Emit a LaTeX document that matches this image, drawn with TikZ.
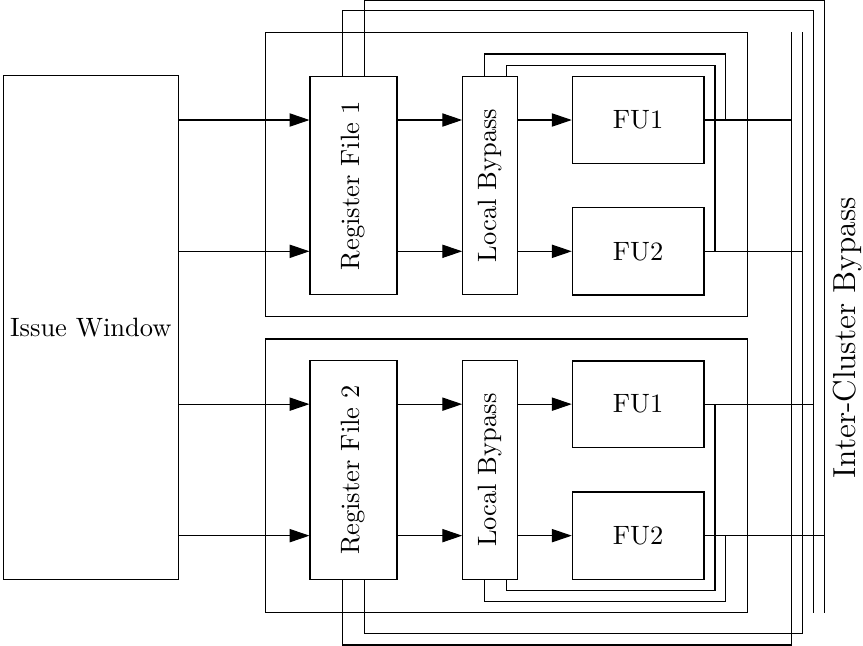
\documentclass[tikz,border=0pt]{standalone}
\usepackage{graphicx}
\usetikzlibrary{arrows.meta}
\begin{document}
\begin{tikzpicture}[x=0.3774pt,y=-0.3774pt,
  blk/.style 2 args={draw, inner sep=0pt, minimum width={#1*0.3774pt}, minimum height={#2*0.3774pt}},
  arr/.style={-{Triangle[length=7.5pt,width=5pt]}},
  wire/.style={line width=0.4pt}]
\useasboundingbox (0,0) rectangle (863,646);
% main blocks
\node[blk={175}{503.6}] (iw) at (90.8,327.5) {Issue Window};
\node[blk={481.6}{284.4}] (c1) at (506.5,174.5) {};
\node[blk={481.6}{273.7}] (c2) at (506.5,475.85) {};
\node[blk={87}{218.4}] (rf1) at (353.5,185.5) {\rotatebox{90}{Register File 1}};
\node[blk={55}{218.4}] (lb1) at (490.2,185.5) {\rotatebox{90}{Local Bypass}};
\node[blk={131.7}{87.4}] (fa1) at (638.15,120) {FU1};
\node[blk={131.7}{87.4}] (fb1) at (638.15,251.3) {FU2};
\node[blk={87}{218.4}] (rf2) at (353.5,470.15) {\rotatebox{90}{Register File 2}};
\node[blk={55}{218.4}] (lb2) at (490.2,470.15) {\rotatebox{90}{Local Bypass}};
\node[blk={131.7}{86.3}] (fa2) at (638.15,404.15) {FU1};
\node[blk={131.7}{87.3}] (fb2) at (638.15,535.65) {FU2};
\node[rotate=90, anchor=base, font=\large] (icb) at (855.5,338) {Inter-Cluster Bypass};
% helper coordinates
\coordinate (bus1) at (791.7,32.3);
\coordinate (bus2) at (802.3,32.3);
\coordinate (bus3) at (813.3,612.7);
\coordinate (bus4) at (824.3,612.7);
\coordinate (t1) at (0,0.7);
\coordinate (t2) at (0,10.7);
\coordinate (t3) at (0,54);
\coordinate (t4) at (0,65.3);
\coordinate (d1) at (0,590.3);
\coordinate (d2) at (0,601.3);
\coordinate (d3) at (0,633.7);
\coordinate (d4) at (0,645);
\coordinate (xa) at (342.7,0);
\coordinate (xb) at (364.3,0);
\coordinate (xc) at (484.7,0);
\coordinate (xd) at (506.7,0);
\coordinate (xr1) at (715,0);
\coordinate (xr2) at (725.7,0);
% forward arrows
\foreach \f/\r/\l in {fa1/rf1/lb1, fb1/rf1/lb1, fa2/rf2/lb2, fb2/rf2/lb2}{
  \draw[arr] (iw.east |- \f.west) -- (\r.west |- \f.west);
  \draw[arr] (\r.east |- \f.west) -- (\l.west |- \f.west);
  \draw[arr] (\l.east |- \f.west) -- (\f.west);
}
% FU outputs to inter-cluster bus
\draw[wire] (fa1.east) -- (fa1.east -| bus1);
\draw[wire] (fb1.east) -- (fb1.east -| bus2);
\draw[wire] (fa2.east) -- (fa2.east -| bus3);
\draw[wire] (fb2.east) -- (fb2.east -| bus4);
% local bypass loops
\draw[wire] (lb1.north -| xc) |- (t3 -| xr2) -- (fa1.east -| xr2);
\draw[wire] (lb1.north -| xd) |- (t4 -| xr1) -- (fb1.east -| xr1);
\draw[wire] (lb2.south -| xd) |- (d1 -| xr1) -- (fa2.east -| xr1);
\draw[wire] (lb2.south -| xc) |- (d2 -| xr2) -- (fb2.east -| xr2);
% inter-cluster bypass
\draw[wire] (rf1.north -| xa) |- (t2 -| bus3) -- (bus3);
\draw[wire] (rf1.north -| xb) |- (t1 -| bus4) -- (bus4);
\draw[wire] (rf2.south -| xa) |- (d4 -| bus1) -- (bus1);
\draw[wire] (rf2.south -| xb) |- (d3 -| bus2) -- (bus2);
\end{tikzpicture}
\end{document}
